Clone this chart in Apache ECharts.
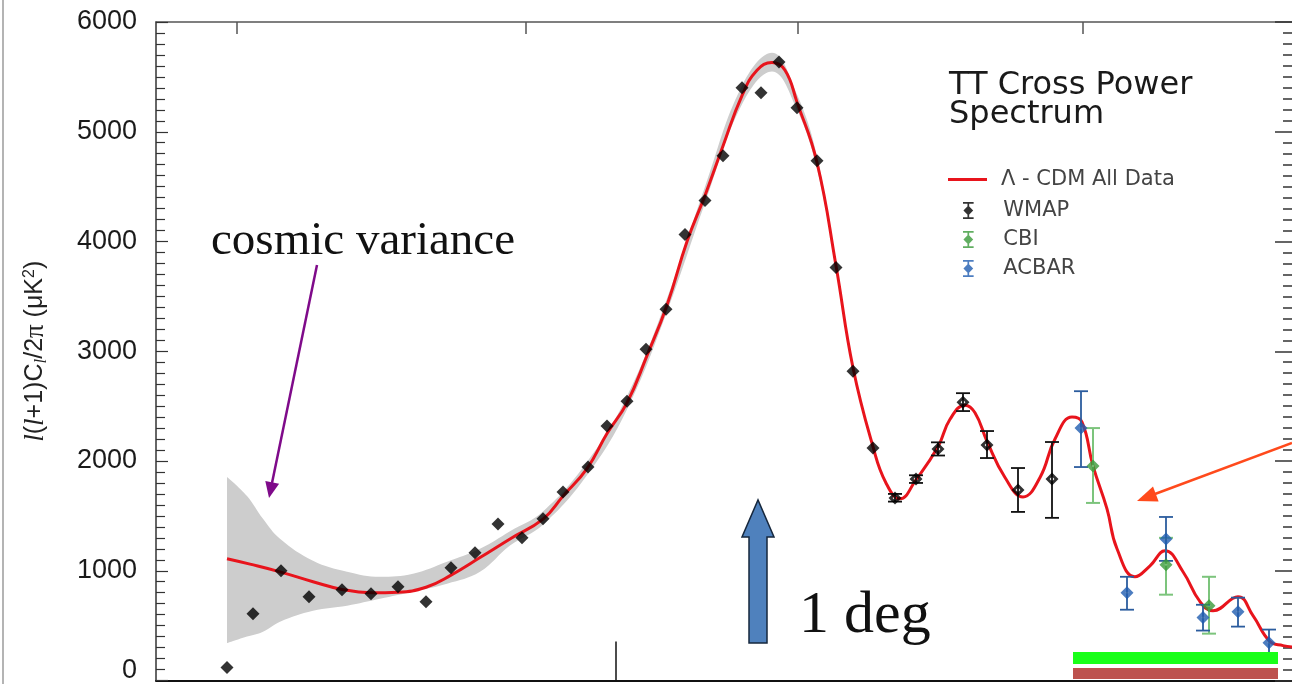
<!DOCTYPE html>
<html>
<head>
<meta charset="utf-8">
<script src="https://cdn.jsdelivr.net/npm/echarts@6/dist/echarts.min.js"></script>
<style>
  html, body { margin: 0; padding: 0; background: #fff; }
  #chart { width: 1292px; height: 684px; }
</style>
</head>
<body>
<div id="chart"></div>
<script>
// Horizontal coordinate: linear position along the plot frame (0 = left edge).
// Vertical coordinate: l(l+1)C_l/2pi in microkelvin squared.

// WMAP binned band powers
const wmapX = [71, 97, 125, 153, 186, 215, 242, 270, 295, 319,
               342, 366, 387, 407, 432, 451, 471, 490, 510, 529,
               549, 567, 586, 605, 623, 641, 661, 680, 697, 717,
               739, 760, 782, 807, 831, 862, 896];
const wmapY = [118, 609, 1000, 764, 827, 791, 855, 718, 1027, 1164,
               1427, 1300, 1473, 1718, 1945, 2318, 2545, 3018, 3382, 4064,
               4373, 4782, 5400, 5355, 5636, 5218, 4736, 3764, 2818, 2118,
               1664, 1836, 2109, 2536, 2145, 1736, 1836];
const wmapErrLow = [null, null, null, null, null, null, null, null, null, null,
                    null, null, null, null, null, null, null, null, null, null,
                    null, null, null, null, null, null, null, null, null, null,
                    1630, 1800, 2050, 2455, 2027, 1536, 1482];
const wmapErrHigh = [null, null, null, null, null, null, null, null, null, null,
                     null, null, null, null, null, null, null, null, null, null,
                     null, null, null, null, null, null, null, null, null, null,
                     1700, 1870, 2170, 2618, 2273, 1936, 2173];

// CBI band powers
const cbiX = [937, 1010, 1053];
const cbiY = [1955, 1055, 682];
const cbiErrLow = [1618, 782, 427];
const cbiErrHigh = [2300, 1300, 945];

// ACBAR band powers
const acbarX = [925, 971, 1010, 1047, 1082, 1113];
const acbarY = [2300, 800, 1290, 573, 627, 345];
const acbarErrLow = [1945, 645, 1090, 455, 491, 230];
const acbarErrHigh = [2636, 945, 1490, 690, 755, 464];

// Best-fit Lambda-CDM model spectrum
const modelX = [71, 94, 124, 157, 186, 215, 242, 270, 295, 324,
                354, 387, 407, 431, 451, 471, 491, 511, 531, 549,
                567, 586, 601, 616, 629, 641, 661, 680, 697, 717,
                730, 744, 760, 782, 794, 809, 819, 831, 849, 867,
                884, 899, 916, 926, 937, 951, 961, 979, 994, 1009,
                1027, 1044, 1057, 1082, 1097, 1114, 1127, 1136];
const modelY = [1109, 1060, 990, 900, 830, 800, 805, 850, 960, 1120,
                1290, 1470, 1680, 1930, 2250, 2530, 2960, 3420, 4000, 4420,
                4870, 5330, 5560, 5630, 5560, 5270, 4720, 3780, 2850, 2130,
                1800, 1655, 1830, 2130, 2380, 2509, 2440, 2180, 1850, 1673,
                1850, 2200, 2400, 2354, 1955, 1564, 1200, 945, 1045, 1182,
                991, 718, 636, 764, 591, 355, 318, 305];

// Model uncertainty band (cosmic variance dominates at the left)
const bandX = [71, 91, 107, 124, 157, 191, 224, 257, 291, 324,
               354, 387, 431, 471, 511, 549, 586, 616, 641, 661, 680];
const bandLow = [340, 400, 445, 536, 636, 682, 745, 809, 882, 991,
                 1230, 1420, 1870, 2470, 3360, 4350, 5250, 5550, 5200, 4660, 3760];
const bandHigh = [1855, 1682, 1473, 1291, 1091, 991, 945, 973, 1082, 1200,
                  1360, 1540, 1990, 2590, 3480, 4500, 5420, 5720, 5340, 4780, 3800];

// Tick positions along the top (angular scale) and bottom frame
const topTicks = [81, 370, 642, 927];
const bottomTicks = [460];

const SANS = "'Liberation Sans', Arial, sans-serif";
const SERIF = "'Liberation Serif', 'Times New Roman', serif";
const LEGEND_FONT = "'DejaVu Sans', sans-serif";

const zip = (xs, ys) => xs.map((x, i) => [x, ys[i]]);
const errRows = (xs, lo, hi) => xs.map((x, i) => [x, lo[i], hi[i]]).filter(r => r[1] != null);

const DIAMOND_HOLE = 'path://M0,-6L6,0L0,6L-6,0Z M0,-2.2L-2.2,0L0,2.2L2.2,0Z';
const DIAMOND_PIN = 'path://M0,-6L6,0L0,6L-6,0Z M0,-1.2L-1.2,0L0,1.2L1.2,0Z';
const ERR_ICON = 'path://M2,0h10v1.6h-10z M6.2,0h1.6v16h-1.6z M2,14.4h10v1.6h-10z M7,3.2l4.6,4.8l-4.6,4.8l-4.6,-4.8z';

function errorBars(color, width) {
  return function (params, api) {
    const x = api.value(0);
    const lo = api.coord([x, api.value(1)]);
    const hi = api.coord([x, api.value(2)]);
    const cap = 7;
    const style = { stroke: color, lineWidth: width };
    return {
      type: 'group',
      children: [
        { type: 'line', shape: { x1: lo[0], y1: lo[1], x2: hi[0], y2: hi[1] }, style },
        { type: 'line', shape: { x1: lo[0] - cap, y1: lo[1], x2: lo[0] + cap, y2: lo[1] }, style },
        { type: 'line', shape: { x1: hi[0] - cap, y1: hi[1], x2: hi[0] + cap, y2: hi[1] }, style }
      ]
    };
  };
}

const wmapPoints = wmapX.map((x, i) => ({
  value: [x, wmapY[i]],
  symbol: wmapErrLow[i] != null ? DIAMOND_HOLE : 'diamond'
}));

// The band rows keep the power column first so that stacking sums the power values.
const bandBaseRows = bandX.map((x, i) => [bandLow[i], x]);
const bandWidthRows = bandX.map((x, i) => [bandHigh[i] - bandLow[i], x]);

const chart = echarts.init(document.getElementById('chart'), null, { renderer: 'canvas' });

const frameAxis = {
  type: 'value', min: 0, max: 1136,
  axisLabel: { show: false },
  splitLine: { show: false }
};

const option = {
  animation: false,
  backgroundColor: '#ffffff',
  title: {
    text: 'TT Cross Power\nSpectrum',
    left: 944,
    top: 66,
    textStyle: {
      fontFamily: LEGEND_FONT,
      fontSize: 32,
      fontWeight: 'normal',
      color: '#1a1a1a',
      lineHeight: 29
    }
  },
  legend: [
    {
      orient: 'vertical',
      left: 943,
      top: 164,
      itemWidth: 39,
      itemHeight: 3,
      data: [{ name: 'Λ - CDM All Data', icon: 'rect' }],
      textStyle: { fontFamily: LEGEND_FONT, fontSize: 21, color: '#444', lineHeight: 20, padding: [0, 0, 0, 9] }
    },
    {
      orient: 'vertical',
      left: 958,
      top: 195,
      itemWidth: 14,
      itemHeight: 17,
      itemGap: 8,
      data: [
        { name: 'WMAP', icon: ERR_ICON },
        { name: 'CBI', icon: ERR_ICON },
        { name: 'ACBAR', icon: ERR_ICON }
      ],
      textStyle: { fontFamily: LEGEND_FONT, fontSize: 21, color: '#444', lineHeight: 17, padding: [0, 0, 0, 23] }
    }
  ],
  grid: { left: 156, right: 0, top: 22, bottom: 2 },
  xAxis: [
    Object.assign({}, frameAxis, {
      position: 'bottom',
      axisLine: { show: true, onZero: false, lineStyle: { color: '#111', width: 2 } },
      axisTick: { show: true, inside: true, customValues: bottomTicks, length: 39, lineStyle: { color: '#111', width: 1.5 } }
    }),
    Object.assign({}, frameAxis, {
      position: 'top',
      axisLine: { show: true, onZero: false, lineStyle: { color: '#555', width: 1.5 } },
      axisTick: { show: true, inside: true, customValues: topTicks, length: 12, lineStyle: { color: '#555', width: 1.5 } }
    })
  ],
  yAxis: [
    {
      type: 'value', position: 'left', min: 0, max: 6000, interval: 1000,
      name: '{it|l}({it|l}+1)C{sub|l}/2{pi|π} (μK{sup|2})',
      nameLocation: 'middle',
      nameRotate: 90,
      nameGap: 106,
      nameTextStyle: {
        fontFamily: SANS, fontSize: 25, color: '#222',
        rich: {
          it: { fontFamily: SERIF, fontStyle: 'italic', fontSize: 27, color: '#222' },
          sub: { fontFamily: SERIF, fontStyle: 'italic', fontSize: 17, color: '#222', padding: [12, 0, 0, 0] },
          sup: { fontFamily: SANS, fontSize: 16, color: '#222', padding: [0, 0, 12, 0] },
          pi: { fontFamily: SERIF, fontSize: 27, color: '#222' }
        }
      },
      axisLine: { show: true, onZero: false, lineStyle: { color: '#333', width: 1.5 } },
      axisTick: { show: true, inside: true, length: 12, lineStyle: { color: '#333', width: 1.2 } },
      minorTick: { show: true, splitNumber: 10, length: 9, lineStyle: { color: '#333', width: 1.2 } },
      axisLabel: {
        margin: 19,
        fontFamily: SANS, fontSize: 27, color: '#1a1a1a',
        formatter: v => (v === 0 ? '{z|0}' : String(v)),
        rich: { z: { fontFamily: SANS, fontSize: 27, color: '#1a1a1a', padding: [0, 0, 20, 0] } }
      },
      splitLine: { show: false }
    },
    {
      type: 'value', position: 'right', min: 0, max: 6000, interval: 1000,
      axisLine: { show: false, onZero: false },
      axisTick: { show: true, inside: true, length: 17, lineStyle: { color: '#333', width: 1.5 } },
      minorTick: { show: true, splitNumber: 10, length: 9, lineStyle: { color: '#333', width: 1.5 } },
      axisLabel: { show: false },
      splitLine: { show: false }
    }
  ],
  series: [
    {
      name: 'band-base', type: 'line', stack: 'band', smooth: 0.4,
      data: bandBaseRows, encode: { x: 1, y: 0 }, symbol: 'none',
      lineStyle: { opacity: 0 }, silent: true, z: 1
    },
    {
      name: 'band-width', type: 'line', stack: 'band', smooth: 0.4,
      data: bandWidthRows, encode: { x: 1, y: 0 }, symbol: 'none',
      lineStyle: { opacity: 0 }, areaStyle: { color: '#cdcdcd', opacity: 1 }, silent: true, z: 1
    },
    {
      name: 'Λ - CDM All Data', type: 'line', smooth: 0.45,
      data: zip(modelX, modelY), symbol: 'none',
      color: '#e8141c',
      lineStyle: { color: '#e8141c', width: 3 }, z: 3
    },
    {
      name: 'WMAP errors', type: 'custom', renderItem: errorBars('#111', 1.8),
      data: errRows(wmapX, wmapErrLow, wmapErrHigh), encode: { x: 0, y: [1, 2] }, z: 4
    },
    {
      name: 'CBI errors', type: 'custom', renderItem: errorBars('#7cc47c', 2),
      data: errRows(cbiX, cbiErrLow, cbiErrHigh), encode: { x: 0, y: [1, 2] }, z: 4
    },
    {
      name: 'ACBAR errors', type: 'custom', renderItem: errorBars('#2b5c9e', 1.8),
      data: errRows(acbarX, acbarErrLow, acbarErrHigh), encode: { x: 0, y: [1, 2] }, z: 4
    },
    {
      name: 'WMAP', type: 'scatter', data: wmapPoints, symbolSize: 13,
      color: '#000', itemStyle: { color: '#000' }, z: 5
    },
    {
      name: 'CBI', type: 'scatter', data: zip(cbiX, cbiY), symbol: DIAMOND_PIN, symbolSize: 13,
      color: '#3a9a3a', itemStyle: { color: '#3a9a3a' }, z: 6
    },
    {
      name: 'ACBAR', type: 'scatter', data: zip(acbarX, acbarY), symbol: DIAMOND_PIN, symbolSize: 13,
      color: '#1f5db0', itemStyle: { color: '#1f5db0' }, z: 6
    }
  ],
  graphic: [
    // slide frame edge on the left
    { type: 'line', z: 100, shape: { x1: 3, y1: 0, x2: 3, y2: 684 }, style: { stroke: '#b4b4b4', lineWidth: 2 } },
    // "cosmic variance" note with its arrow
    { type: 'text', z: 100, x: 211, y: 242,
      style: { text: 'cosmic variance', font: '47px ' + SERIF, fill: '#111', align: 'left', verticalAlign: 'middle' } },
    { type: 'line', z: 100, shape: { x1: 317, y1: 265, x2: 272, y2: 483 }, style: { stroke: '#7f0a8a', lineWidth: 2.5 } },
    { type: 'polygon', z: 100, shape: { points: [[269, 498], [279.1, 483.7], [265.3, 480.9]] }, style: { fill: '#7f0a8a' } },
    // arrow pointing at the damping tail
    { type: 'line', z: 100, shape: { x1: 1292, y1: 443, x2: 1155, y2: 494 }, style: { stroke: '#ff4a1c', lineWidth: 2.5 } },
    { type: 'polygon', z: 100, shape: { points: [[1137, 501], [1153.0, 486.6], [1158.6, 501.6]] }, style: { fill: '#ff4a1c' } },
    // one-degree scale marker
    { type: 'polygon', z: 100,
      shape: { points: [[749, 643], [749, 537], [742, 537], [758, 500], [774, 537], [767, 537], [767, 643]] },
      style: { fill: '#4f81bd', stroke: '#16273d', lineWidth: 1.5 } },
    { type: 'text', z: 100, x: 799, y: 616,
      style: { text: '1 deg', font: '60px ' + SERIF, fill: '#111', align: 'left', verticalAlign: 'middle' } },
    // coverage bars at the bottom right
    { type: 'rect', z: 100, shape: { x: 1073, y: 652, width: 205, height: 12 }, style: { fill: '#19ff19' } },
    { type: 'rect', z: 100, shape: { x: 1073, y: 668, width: 205, height: 11 }, style: { fill: '#bd524e' } }
  ]
};

chart.setOption(option);
</script>
</body>
</html>
